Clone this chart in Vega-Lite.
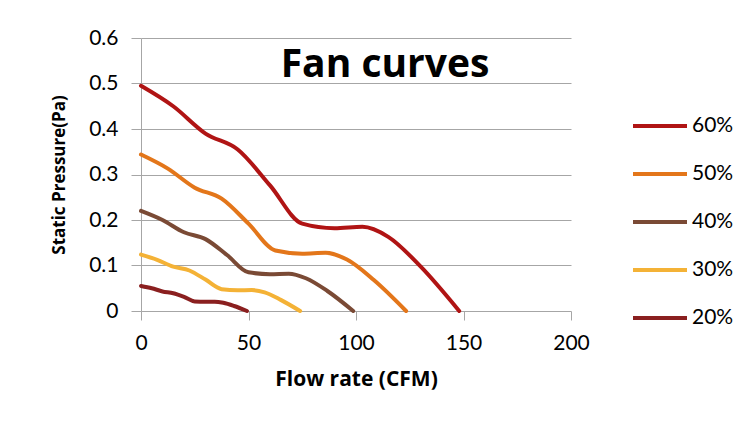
{
  "$schema": "https://vega.github.io/schema/vega-lite/v6.json",
  "width": 430,
  "height": 273,
  "autosize": {"type": "none"},
  "padding": {"left": 141, "top": 38, "right": 183, "bottom": 119},
  "background": "white",
  "layer": [
    {
      "data": {"values": [
        {"x": 0, "p": 0.495, "s": "60%"}, {"x": 15, "p": 0.45, "s": "60%"}, {"x": 30, "p": 0.39, "s": "60%"}, {"x": 45, "p": 0.355, "s": "60%"}, {"x": 60, "p": 0.276, "s": "60%"}, {"x": 75, "p": 0.192, "s": "60%"}, {"x": 90, "p": 0.182, "s": "60%"}, {"x": 103, "p": 0.185, "s": "60%"}, {"x": 115, "p": 0.163, "s": "60%"}, {"x": 130, "p": 0.098, "s": "60%"}, {"x": 148, "p": 0, "s": "60%"},
        {"x": 0, "p": 0.344, "s": "50%"}, {"x": 12.5, "p": 0.313, "s": "50%"}, {"x": 25, "p": 0.271, "s": "50%"}, {"x": 37.5, "p": 0.247, "s": "50%"}, {"x": 50, "p": 0.192, "s": "50%"}, {"x": 62.5, "p": 0.133, "s": "50%"}, {"x": 75, "p": 0.126, "s": "50%"}, {"x": 85.8, "p": 0.128, "s": "50%"}, {"x": 95.8, "p": 0.113, "s": "50%"}, {"x": 108.3, "p": 0.068, "s": "50%"}, {"x": 123.3, "p": 0, "s": "50%"},
        {"x": 0, "p": 0.22, "s": "40%"}, {"x": 10, "p": 0.2, "s": "40%"}, {"x": 20, "p": 0.173, "s": "40%"}, {"x": 30, "p": 0.158, "s": "40%"}, {"x": 40, "p": 0.123, "s": "40%"}, {"x": 50, "p": 0.085, "s": "40%"}, {"x": 60, "p": 0.081, "s": "40%"}, {"x": 68.7, "p": 0.082, "s": "40%"}, {"x": 76.7, "p": 0.072, "s": "40%"}, {"x": 86.7, "p": 0.044, "s": "40%"}, {"x": 98.7, "p": 0, "s": "40%"},
        {"x": 0, "p": 0.124, "s": "30%"}, {"x": 7.5, "p": 0.1125, "s": "30%"}, {"x": 15, "p": 0.0975, "s": "30%"}, {"x": 22.5, "p": 0.089, "s": "30%"}, {"x": 30, "p": 0.069, "s": "30%"}, {"x": 37.5, "p": 0.048, "s": "30%"}, {"x": 45, "p": 0.0455, "s": "30%"}, {"x": 51.5, "p": 0.046, "s": "30%"}, {"x": 57.5, "p": 0.041, "s": "30%"}, {"x": 65, "p": 0.0245, "s": "30%"}, {"x": 74, "p": 0, "s": "30%"},
        {"x": 0, "p": 0.055, "s": "20%"}, {"x": 5, "p": 0.05, "s": "20%"}, {"x": 10, "p": 0.043, "s": "20%"}, {"x": 15, "p": 0.039, "s": "20%"}, {"x": 20, "p": 0.031, "s": "20%"}, {"x": 25, "p": 0.021, "s": "20%"}, {"x": 30, "p": 0.0202, "s": "20%"}, {"x": 34.3, "p": 0.0206, "s": "20%"}, {"x": 38.3, "p": 0.018, "s": "20%"}, {"x": 43.3, "p": 0.011, "s": "20%"}, {"x": 49.3, "p": 0, "s": "20%"}
      ]},
      "mark": {"type": "line", "interpolate": "monotone", "strokeWidth": 4, "strokeCap": "round"},
      "encoding": {
        "x": {"field": "x", "type": "quantitative", "scale": {"domain": [0, 200], "nice": false},
          "axis": {"title": "Flow rate (CFM)", "values": [0, 50, 100, 150, 200], "labelFlush": false, "grid": false, "domain": false, "tickColor": "#a6a6a6", "tickSize": 9, "labelPadding": 12, "titlePadding": 15, "labelFontSize": 21, "labelFont": "Lato", "labelColor": "black", "titleFont": "Open Sans", "titleFontSize": 21, "titleFontWeight": "bold", "titleColor": "black"}},
        "y": {"field": "p", "type": "quantitative", "scale": {"domain": [0, 0.6], "nice": false},
          "axis": {"title": "Static Pressure(Pa)", "values": [0, 0.1, 0.2, 0.3, 0.4, 0.5, 0.6], "format": ".1~f", "labelFlush": false, "grid": true, "gridColor": "#a6a6a6", "gridWidth": 1, "domainColor": "#a6a6a6", "tickColor": "#a6a6a6", "tickSize": 10, "labelPadding": 13, "titlePadding": 20, "labelFontSize": 21, "labelFont": "Lato", "labelColor": "black", "titleFont": "Open Sans", "titleFontSize": 17, "titleFontWeight": "bold", "titleColor": "black"}},
        "color": {"field": "s", "type": "nominal",
          "scale": {"domain": ["60%", "50%", "40%", "30%", "20%"], "range": ["#B01414", "#E3761A", "#7A4A35", "#F4B236", "#8A1F1F"]},
          "legend": {"title": null, "orient": "none", "legendX": 490, "legendY": 59, "symbolType": "stroke", "symbolSize": 2916, "symbolStrokeWidth": 4, "labelFont": "Lato", "labelFontSize": 21, "labelColor": "black", "labelOffset": 3, "rowPadding": 9}}
      }
    },
    {
      "data": {"values": [{"label": "Fan curves", "x": 113.5, "p": 0.514}]},
      "mark": {"type": "text", "font": "Open Sans", "fontSize": 39, "fontWeight": "bold", "color": "black", "align": "center", "baseline": "alphabetic"},
      "encoding": {
        "text": {"field": "label"},
        "x": {"field": "x", "type": "quantitative"},
        "y": {"field": "p", "type": "quantitative"}
      }
    }
  ],
  "config": {"view": {"stroke": null}}
}
